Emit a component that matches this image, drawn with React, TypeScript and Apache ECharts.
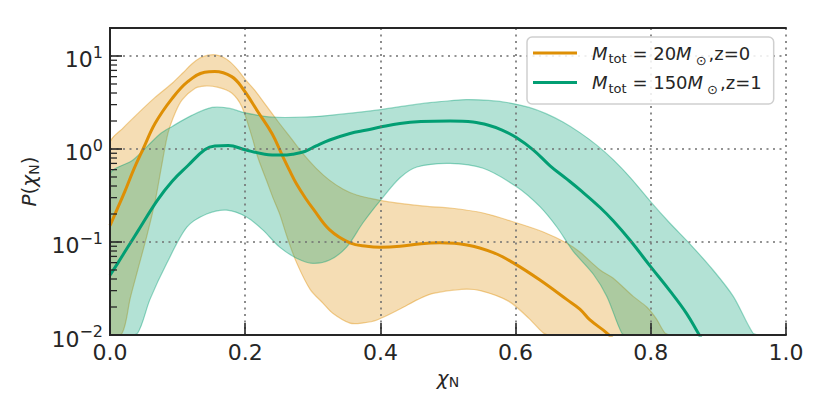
import React, { useEffect, useRef } from "react";
import * as echarts from "echarts";

const FONT = "DejaVu Sans";
const INK = "#262626";
const ORANGE = "#DE8F05";
const GREEN = "#029E73";

const xTickValues = [0, 0.2, 0.4, 0.6, 0.8, 1.0];
const yMajorTicks = [0.01, 0.1, 1, 10];
const yMinorTicks = [
  0.02, 0.03, 0.04, 0.05, 0.06, 0.07, 0.08, 0.09,
  0.2, 0.3, 0.4, 0.5, 0.6, 0.7, 0.8, 0.9,
  2, 3, 4, 5, 6, 7, 8, 9,
];

const seriesNames = ["M20_z0", "M150_z1"];

// M_tot = 20 M_sun, z = 0
const lowMassMedian = [
  [0, 0.15], [0.01, 0.22], [0.022, 0.35], [0.035, 0.6], [0.049, 1.0],
  [0.067, 1.9], [0.092, 3.5], [0.115, 5.3], [0.14, 6.7], [0.155, 6.8],
  [0.18, 6.0], [0.196, 4.5], [0.219, 2.5], [0.24, 1.45], [0.254, 0.88],
  [0.265, 0.6], [0.276, 0.42], [0.29, 0.29], [0.3, 0.23], [0.325, 0.135],
  [0.355, 0.098], [0.38, 0.09], [0.4, 0.088], [0.429, 0.09], [0.46, 0.096],
  [0.488, 0.098], [0.528, 0.093], [0.567, 0.077], [0.596, 0.06], [0.636, 0.039],
  [0.676, 0.024], [0.695, 0.019], [0.71, 0.0145], [0.735, 0.0105], [0.76, 0.007],
];
const lowMassUpper = [
  [0, 1.16], [0.02, 1.7], [0.041, 2.4], [0.065, 3.5], [0.092, 5.1],
  [0.108, 6.6], [0.121, 8.2], [0.133, 9.5], [0.145, 10.2], [0.156, 10.3],
  [0.166, 9.8], [0.178, 8.6], [0.189, 7.1], [0.2, 5.6], [0.214, 4.3],
  [0.23, 3.0], [0.248, 2.0], [0.268, 1.3], [0.286, 0.88], [0.305, 0.62],
  [0.325, 0.46], [0.345, 0.37], [0.365, 0.32], [0.4, 0.28], [0.429, 0.26],
  [0.473, 0.24], [0.503, 0.232], [0.552, 0.205], [0.602, 0.16], [0.641, 0.128],
  [0.676, 0.097], [0.695, 0.078], [0.725, 0.05], [0.744, 0.041], [0.774, 0.026],
  [0.794, 0.02], [0.808, 0.015], [0.821, 0.0105], [0.83, 0.007],
];
const lowMassLower = [
  [0, 0.004], [0.018, 0.0105], [0.03, 0.025], [0.041, 0.05], [0.055, 0.12],
  [0.067, 0.28], [0.077, 0.7], [0.086, 1.5], [0.097, 2.5], [0.107, 3.4],
  [0.126, 4.5], [0.14, 4.75], [0.16, 4.6], [0.18, 4.0], [0.195, 2.85],
  [0.21, 1.35], [0.219, 0.8], [0.232, 0.45], [0.241, 0.3], [0.251, 0.2],
  [0.262, 0.113], [0.276, 0.06], [0.296, 0.031], [0.315, 0.022], [0.33, 0.017],
  [0.355, 0.0134], [0.375, 0.0135], [0.395, 0.0145], [0.429, 0.019], [0.455, 0.024],
  [0.478, 0.028], [0.52, 0.031], [0.548, 0.03], [0.59, 0.023], [0.62, 0.015],
  [0.641, 0.0105], [0.65, 0.008],
];

// M_tot = 150 M_sun, z = 1
const highMassMedian = [
  [0, 0.044], [0.012, 0.06], [0.025, 0.085], [0.041, 0.13], [0.07, 0.28],
  [0.092, 0.45], [0.115, 0.66], [0.14, 0.98], [0.155, 1.08], [0.175, 1.09],
  [0.2, 0.98], [0.229, 0.88], [0.254, 0.86], [0.27, 0.88], [0.288, 0.94],
  [0.305, 1.08], [0.325, 1.25], [0.355, 1.47], [0.38, 1.6], [0.4, 1.72],
  [0.429, 1.88], [0.46, 1.97], [0.503, 2.0], [0.537, 1.95], [0.56, 1.8],
  [0.58, 1.6], [0.601, 1.33], [0.626, 0.98], [0.651, 0.66], [0.675, 0.48],
  [0.698, 0.35], [0.725, 0.235], [0.744, 0.17], [0.769, 0.105], [0.8, 0.054],
  [0.828, 0.03], [0.853, 0.017], [0.87, 0.0105], [0.885, 0.007],
];
const highMassUpper = [
  [0, 0.53], [0.034, 0.76], [0.074, 1.45], [0.092, 1.75], [0.121, 2.3],
  [0.151, 2.8], [0.175, 2.75], [0.2, 2.45], [0.24, 2.2], [0.288, 2.2],
  [0.325, 2.3], [0.4, 2.65], [0.429, 2.85], [0.473, 3.15], [0.503, 3.3],
  [0.527, 3.4], [0.56, 3.33], [0.592, 3.12], [0.62, 2.8], [0.645, 2.4],
  [0.67, 1.95], [0.695, 1.5], [0.72, 1.1], [0.745, 0.76], [0.77, 0.49],
  [0.8, 0.27], [0.828, 0.16], [0.858, 0.095], [0.892, 0.05], [0.922, 0.026],
  [0.951, 0.0105], [0.96, 0.007],
];
const highMassLower = [
  [0, 0.002], [0.025, 0.004], [0.041, 0.0105], [0.059, 0.024], [0.084, 0.059],
  [0.114, 0.145], [0.143, 0.2], [0.173, 0.22], [0.202, 0.186], [0.226, 0.135],
  [0.251, 0.088], [0.276, 0.067], [0.3, 0.059], [0.325, 0.064], [0.35, 0.088],
  [0.374, 0.16], [0.4, 0.28], [0.429, 0.49], [0.454, 0.64], [0.503, 0.7],
  [0.552, 0.62], [0.602, 0.39], [0.636, 0.24], [0.661, 0.145], [0.685, 0.08],
  [0.715, 0.045], [0.735, 0.026], [0.757, 0.0105], [0.765, 0.007],
];

function bandRenderer(upper: number[][], lower: number[][], fill: string, stroke: string) {
  return (params: any, api: any) => {
    if (params.dataIndex !== 0) return null;
    const cs = params.coordSys;
    const clampY = (p: number[]) => [p[0], Math.min(Math.max(p[1], cs.y), cs.y + cs.height)];
    const pts = [
      ...upper.map((d) => clampY(api.coord(d))),
      ...lower.slice().reverse().map((d) => clampY(api.coord(d))),
    ];
    return {
      type: "polygon",
      shape: { points: pts, smooth: 0.3 },
      style: { fill, stroke, lineWidth: 1.2 },
    };
  };
}

export default function App() {
  const ref = useRef<HTMLDivElement>(null);
  useEffect(() => {
    const chart = echarts.init(ref.current!, null, { renderer: "svg" });
    const supText = (k: number) => (k < 0 ? "\u2212" + -k : String(k));
    const option: any = {
      animation: false,
      backgroundColor: "#ffffff",
      textStyle: { fontFamily: FONT, color: INK },
      grid: { left: 110, right: 44, top: 28, bottom: 80 },
      legend: {
        orient: "vertical",
        left: 527,
        top: 37,
        z: 10,
        padding: [7, 12, 8, 6],
        itemGap: 7,
        itemWidth: 44,
        itemHeight: 3,
        icon: "rect",
        backgroundColor: "rgba(255,255,255,0.85)",
        borderColor: "#cfcfcf",
        borderWidth: 1.5,
        borderRadius: 5,
        data: seriesNames,
        formatter: (name: string) =>
          name === seriesNames[0]
            ? "{i0|M}{s|tot}{n| = 20}{i|M}{o|\u2299}{n|,z=0}"
            : "{i0|M}{s|tot}{n| = 150}{i|M}{o|\u2299}{n|,z=1}",
        textStyle: {
          fontFamily: FONT,
          color: INK,
          fontSize: 18,
          rich: {
            i0: { fontFamily: FONT, fontStyle: "italic", fontSize: 18, color: INK, padding: [0, 0, 0, 10] },
            i: { fontFamily: FONT, fontStyle: "italic", fontSize: 18, color: INK },
            n: { fontFamily: FONT, fontSize: 18, color: INK },
            s: { fontFamily: FONT, fontSize: 13, color: INK, padding: [11, 0, 0, 1] },
            o: { fontFamily: FONT, fontSize: 13, color: INK, padding: [14, 2, 0, 4] },
          },
        },
      },
      xAxis: [
        {
          type: "value",
          min: 0,
          max: 1,
          interval: 0.2,
          position: "bottom",
          z: 6,
          axisLine: { show: true, onZero: false, lineStyle: { color: INK, width: 2 } },
          axisTick: { show: true, inside: true, length: 12, lineStyle: { color: INK, width: 1.6 } },
          axisLabel: {
            margin: 6,
            fontSize: 22,
            fontFamily: FONT,
            color: INK,
            formatter: (v: number) => (xTickValues.some((t) => Math.abs(t - v) < 1e-9) ? v.toFixed(1) : ""),
          },
          splitLine: { show: true, lineStyle: { color: "#707070", width: 1.6, type: [2, 4.5] } },
          name: "{i|\u03c7}{s|N}",
          nameLocation: "middle",
          nameGap: 30,
          nameTextStyle: {
            fontFamily: FONT,
            color: INK,
            rich: {
              i: { fontFamily: FONT, fontStyle: "italic", fontSize: 20, color: INK },
              s: { fontFamily: FONT, fontSize: 14, color: INK, padding: [9, 0, 0, 0] },
            },
          },
        },
        {
          type: "value",
          min: 0,
          max: 1,
          position: "top",
          z: 6,
          axisLine: { show: true, onZero: false, lineStyle: { color: INK, width: 2 } },
          axisTick: { show: false },
          axisLabel: { show: false },
          splitLine: { show: false },
        },
      ],
      yAxis: [
        {
          type: "log",
          logBase: 10,
          min: 0.01,
          max: 20,
          position: "left",
          z: 6,
          axisLine: { show: true, lineStyle: { color: INK, width: 2 } },
          axisTick: { show: true, inside: true, length: 12, lineStyle: { color: INK, width: 1.6 } },
          axisLabel: {
            margin: 7,
            showMaxLabel: false,
            formatter: (val: number) => {
              const e = Math.log10(val);
              const k = Math.round(e);
              if (Math.abs(e - k) > 1e-6 || !yMajorTicks.some((t) => Math.abs(t - val) / t < 1e-6)) return "";
              return "{b|10}{sup|" + supText(k) + "}";
            },
            rich: {
              b: { fontFamily: FONT, fontSize: 22, color: INK, padding: [8, 0, 0, 0] },
              sup: { fontFamily: FONT, fontSize: 16, color: INK, padding: [0, 0, 7, 0] },
            },
          },
          splitLine: { show: true, lineStyle: { color: "#707070", width: 1.6, type: [2, 4.5] } },
          name: "{i|P}{n|(}{i|\u03c7}{s|N}{n|)}",
          nameLocation: "middle",
          nameGap: 50,
          nameTextStyle: {
            fontFamily: FONT,
            color: INK,
            rich: {
              i: { fontFamily: FONT, fontStyle: "italic", fontSize: 20, color: INK },
              n: { fontFamily: FONT, fontSize: 20, color: INK },
              s: { fontFamily: FONT, fontSize: 14, color: INK, padding: [9, 0, 0, 0] },
            },
          },
        },
        {
          type: "log",
          logBase: 10,
          min: 0.01,
          max: 20,
          position: "right",
          z: 6,
          axisLine: { show: true, lineStyle: { color: INK, width: 2 } },
          axisTick: { show: false },
          axisLabel: { show: false },
          splitLine: { show: false },
        },
      ],
      series: [
        {
          type: "custom",
          name: "lowBand",
          xAxisIndex: 0,
          yAxisIndex: 0,
          z: 2,
          clip: true,
          silent: true,
          data: lowMassUpper,
          renderItem: bandRenderer(lowMassUpper, lowMassLower, "rgba(222,143,5,0.3)", "rgba(222,143,5,0.4)"),
        },
        {
          type: "custom",
          name: "highBand",
          xAxisIndex: 0,
          yAxisIndex: 0,
          z: 2,
          clip: true,
          silent: true,
          data: highMassUpper,
          renderItem: bandRenderer(highMassUpper, highMassLower, "rgba(2,158,115,0.3)", "rgba(2,158,115,0.4)"),
        },
        {
          type: "line",
          name: seriesNames[0],
          xAxisIndex: 0,
          yAxisIndex: 0,
          z: 4,
          data: lowMassMedian,
          smooth: 0.4,
          symbol: "none",
          showSymbol: false,
          clip: true,
          lineStyle: { color: ORANGE, width: 3 },
          itemStyle: { color: ORANGE },
        },
        {
          type: "line",
          name: seriesNames[1],
          xAxisIndex: 0,
          yAxisIndex: 0,
          z: 4,
          data: highMassMedian,
          smooth: 0.4,
          symbol: "none",
          showSymbol: false,
          clip: true,
          lineStyle: { color: GREEN, width: 3 },
          itemStyle: { color: GREEN },
        },
        {
          type: "custom",
          name: "minorTicks",
          xAxisIndex: 0,
          yAxisIndex: 0,
          z: 7,
          silent: true,
          data: yMinorTicks.map((v) => [0, v]),
          renderItem: (params: any, api: any) => {
            const p = api.coord([0, api.value(1)]);
            return {
              type: "line",
              shape: { x1: p[0], y1: p[1], x2: p[0] + 7, y2: p[1] },
              style: { stroke: INK, lineWidth: 1.3 },
            };
          },
        },
      ],
    };
    chart.setOption(option);
    return () => chart.dispose();
  }, []);
  return <div ref={ref} style={{ position: "fixed", left: 0, top: 0, width: 830, height: 415 }} />;
}
